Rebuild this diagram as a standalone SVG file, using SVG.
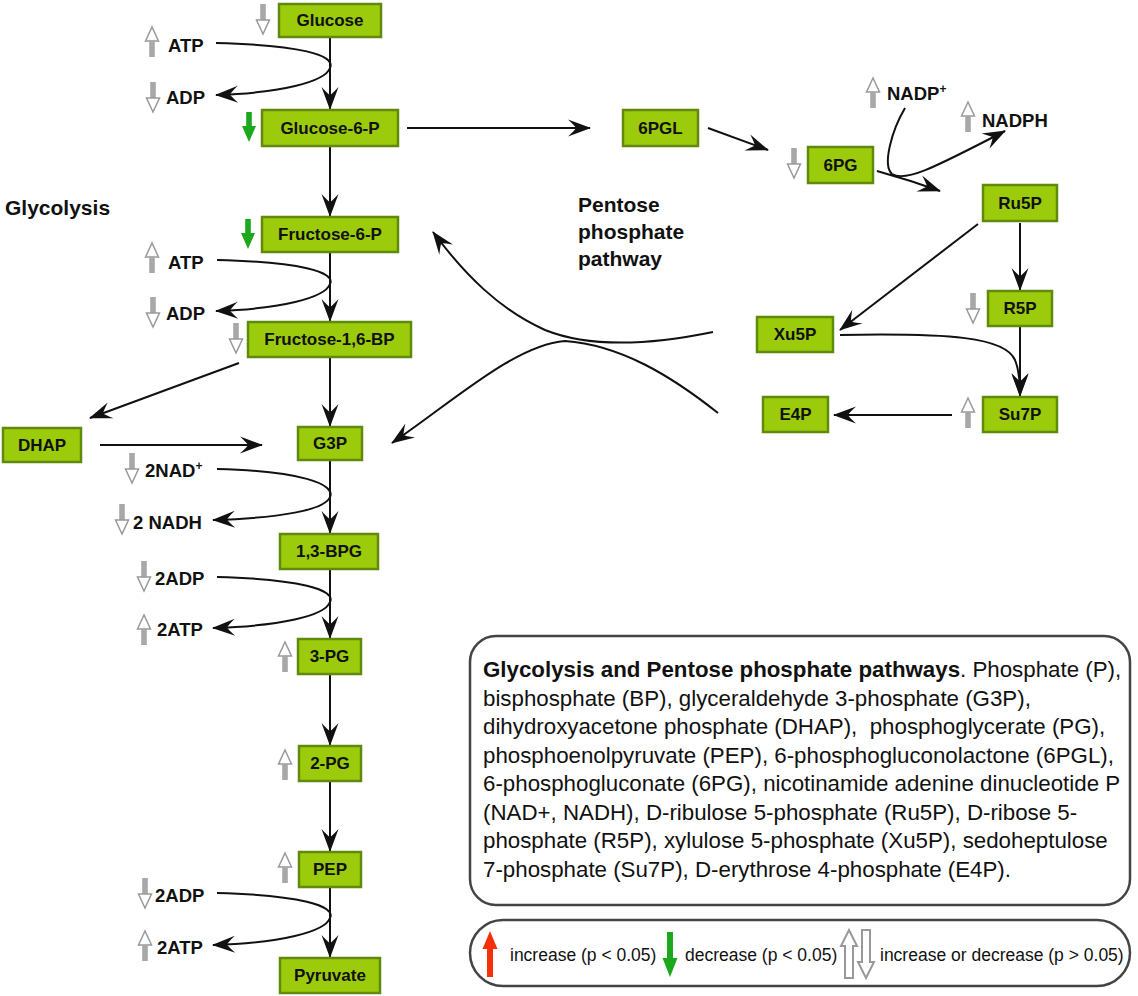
<svg xmlns="http://www.w3.org/2000/svg" width="1138" height="996" viewBox="0 0 1138 996">
<style>
.n rect{fill:#9ccb0c;stroke:#5f8a0e;stroke-width:2.5}
.n text{font-family:"Liberation Sans",Arial,sans-serif;font-weight:bold;font-size:17px;fill:#111;text-anchor:middle}
.lb{font-family:"Liberation Sans",Arial,sans-serif;font-weight:bold;font-size:18.5px;fill:#111}
.ttl{font-family:"Liberation Sans",Arial,sans-serif;font-weight:bold;font-size:21px;fill:#111}
.c path,.c line{fill:none;stroke:#111;stroke-width:2;marker-end:url(#ah)}
.cap{font-family:"Liberation Sans",Arial,sans-serif;font-size:22.3px;fill:#111}
.leg{font-family:"Liberation Sans",Arial,sans-serif;font-size:17.5px;fill:#111}
.box{fill:#fff;stroke:#444;stroke-width:2.5}
</style>
<defs>
<marker id="ah" markerUnits="userSpaceOnUse" markerWidth="26" markerHeight="22" viewBox="-24 -11 26 22" refX="0" refY="0" orient="auto">
<path d="M1,0 L-22,-8.5 Q-15,-2 -14,0 Q-15,2 -22,8.5 Z" fill="#111"/>
</marker>
<g id="gdn"><rect x="-2.8" y="0" width="5.6" height="16" fill="#a8a8a8"/><polygon points="-6.5,16 6.5,16 0,30" fill="#fff" stroke="#999" stroke-width="1.5"/></g>
<g id="gup"><polygon points="0,0 -6.5,14 6.5,14" fill="#fff" stroke="#999" stroke-width="1.5"/><rect x="-2.8" y="14" width="5.6" height="16" fill="#a8a8a8"/></g>
<g id="grn"><rect x="-2.8" y="0" width="5.6" height="16" fill="#1ca81c"/><polygon points="-7,14 7,14 0,30" fill="#1ca81c"/></g>
</defs>
<rect width="1138" height="996" fill="#fff"/>

<g id="connectors" class="c">
<line x1="330" y1="37" x2="330" y2="109"/>
<path d="M216,43 C300,45 336,55 330,68 C325,82 280,93 216,95"/>
<line x1="407" y1="128" x2="590" y2="128"/>
<line x1="330" y1="146" x2="330" y2="216"/>
<line x1="330" y1="252" x2="330" y2="321"/>
<path d="M217,260 C300,262 336,272 330,284 C325,298 280,309 216,311"/>
<line x1="330" y1="357" x2="330" y2="426"/>
<line x1="239" y1="363" x2="90" y2="418"/>
<line x1="100" y1="445" x2="262" y2="445"/>
<line x1="330" y1="460" x2="330" y2="533"/>
<path d="M217,469 C300,471 336,484 330,497 C325,510 280,518 213,520"/>
<line x1="330" y1="569" x2="330" y2="638"/>
<path d="M217,577 C300,579 336,590 330,602 C325,616 280,626 213,628"/>
<line x1="330" y1="674" x2="330" y2="745"/>
<line x1="330" y1="781" x2="330" y2="851"/>
<line x1="330" y1="887" x2="330" y2="957"/>
<path d="M217,893 C300,895 336,906 330,918 C325,932 280,943 213,945"/>
<line x1="708" y1="128" x2="768" y2="150"/>
<path d="M877,171 C895,176 915,182 940,191"/>
<path d="M905,108 C892,130 882,165 892,174 C905,182 930,170 1005,131"/>
<line x1="1020" y1="223" x2="1020" y2="290"/>
<line x1="978" y1="224" x2="840" y2="330"/>
<line x1="1020" y1="327" x2="1020" y2="396"/>
<path d="M840,335 C950,333 1005,337 1015,360 C1019,370 1020,380 1020,395"/>
<line x1="952" y1="415" x2="834" y2="415"/>
<path d="M713,332 C650,345 590,348 545,330 C500,310 465,275 433,232"/>
<path d="M718,413 C670,375 620,345 565,341 C515,345 455,400 392,443"/>
</g>

<g id="nodes">
<g id="glucose" class="n"><rect x="279" y="4" width="102" height="33"/><text x="330" y="26">Glucose</text></g>
<g id="glucose6p" class="n"><rect x="262" y="110" width="136" height="36"/><text x="330" y="134">Glucose-6-P</text></g>
<g id="fructose6p" class="n"><rect x="262" y="217" width="136" height="35"/><text x="330" y="240">Fructose-6-P</text></g>
<g id="fructose16bp" class="n"><rect x="248" y="322" width="163" height="35"/><text x="329.5" y="345">Fructose-1,6-BP</text></g>
<g id="dhap" class="n"><rect x="3" y="428" width="78" height="34"/><text x="42" y="451">DHAP</text></g>
<g id="g3p" class="n"><rect x="298" y="427" width="64" height="33"/><text x="330" y="449">G3P</text></g>
<g id="bpg13" class="n"><rect x="280" y="534" width="98" height="35"/><text x="329" y="557">1,3-BPG</text></g>
<g id="pg3" class="n"><rect x="298" y="639" width="63" height="35"/><text x="329.5" y="662">3-PG</text></g>
<g id="pg2" class="n"><rect x="299" y="746" width="62" height="35"/><text x="330" y="769">2-PG</text></g>
<g id="pep" class="n"><rect x="299" y="852" width="62" height="35"/><text x="330" y="875">PEP</text></g>
<g id="pyruvate" class="n"><rect x="280" y="958" width="100" height="35"/><text x="330" y="981">Pyruvate</text></g>
<g id="pgl6" class="n"><rect x="623" y="110" width="75" height="36"/><text x="660.5" y="134">6PGL</text></g>
<g id="pg6" class="n"><rect x="808" y="147" width="65" height="36"/><text x="840.5" y="171">6PG</text></g>
<g id="ru5p" class="n"><rect x="983" y="185" width="74" height="36"/><text x="1020" y="209">Ru5P</text></g>
<g id="r5p" class="n"><rect x="988" y="291" width="64" height="35"/><text x="1020" y="314">R5P</text></g>
<g id="xu5p" class="n"><rect x="757" y="317" width="76" height="35"/><text x="795" y="340">Xu5P</text></g>
<g id="su7p" class="n"><rect x="983" y="397" width="74" height="35"/><text x="1020" y="420">Su7P</text></g>
<g id="e4p" class="n"><rect x="763" y="397" width="65" height="35"/><text x="795.5" y="420">E4P</text></g>
</g>

<g id="indicators">
<use href="#gdn" x="263" y="4"/>
<use href="#gup" x="152" y="27"/>
<use href="#gdn" x="153" y="82"/>
<use href="#grn" x="249" y="112"/>
<use href="#grn" x="248" y="219"/>
<use href="#gup" x="152" y="243"/>
<use href="#gdn" x="153" y="297"/>
<use href="#gdn" x="236" y="323"/>
<use href="#gdn" x="132" y="453"/>
<use href="#gdn" x="122" y="504"/>
<use href="#gdn" x="144" y="561"/>
<use href="#gup" x="144" y="615"/>
<use href="#gup" x="285" y="642"/>
<use href="#gup" x="285" y="750"/>
<use href="#gup" x="285" y="853"/>
<use href="#gdn" x="145" y="878"/>
<use href="#gup" x="145" y="931"/>
<use href="#gdn" x="794" y="148"/>
<use href="#gup" x="873" y="78"/>
<use href="#gup" x="968" y="102"/>
<use href="#gdn" x="973" y="293"/>
<use href="#gup" x="968" y="398"/>
</g>

<g id="labels">
<text class="lb" x="168" y="52">ATP</text>
<text class="lb" x="166" y="104">ADP</text>
<text class="lb" x="168" y="269">ATP</text>
<text class="lb" x="166" y="320">ADP</text>
<text class="lb" x="145" y="477">2NAD<tspan dy="-7" font-size="12">+</tspan></text>
<text class="lb" x="133" y="529">2 NADH</text>
<text class="lb" x="155" y="585">2ADP</text>
<text class="lb" x="157" y="636">2ATP</text>
<text class="lb" x="155" y="902">2ADP</text>
<text class="lb" x="157" y="954">2ATP</text>
<text class="lb" x="887" y="100">NADP<tspan dy="-7" font-size="12">+</tspan></text>
<text class="lb" x="982" y="127">NADPH</text>
<text class="ttl" x="5" y="215">Glycolysis</text>
<text class="ttl" x="578" y="212">Pentose</text>
<text class="ttl" x="578" y="239">phosphate</text>
<text class="ttl" x="578" y="266">pathway</text>
</g>

<g id="caption">
<rect class="box" x="470" y="636" width="660" height="269" rx="26"/>
<text class="cap" x="483" y="677"><tspan font-weight="bold">Glycolysis and Pentose phosphate pathways</tspan>. Phosphate (P),</text>
<text class="cap" x="483" y="705.5">bisphosphate (BP), glyceraldehyde 3-phosphate (G3P),</text>
<text class="cap" x="483" y="734" xml:space="preserve">dihydroxyacetone phosphate (DHAP),  phosphoglycerate (PG),</text>
<text class="cap" x="483" y="762.5">phosphoenolpyruvate (PEP), 6-phosphogluconolactone (6PGL),</text>
<text class="cap" x="483" y="791">6-phosphogluconate (6PG), nicotinamide adenine dinucleotide P</text>
<text class="cap" x="483" y="819.5">(NAD+, NADH), D-ribulose 5-phosphate (Ru5P), D-ribose 5-</text>
<text class="cap" x="483" y="848">phosphate (R5P), xylulose 5-phosphate (Xu5P), sedoheptulose</text>
<text class="cap" x="483" y="876.5">7-phosphate (Su7P), D-erythrose 4-phosphate (E4P).</text>
</g>

<g id="legend">
<rect class="box" x="470" y="920" width="660" height="66" rx="33"/>
<polygon points="490,931 497.5,949 493,949 493,977 487,977 487,949 482.5,949" fill="#f5300a"/>
<text class="leg" x="510" y="961">increase (p &lt; 0.05)</text>
<polygon points="667,932 673,932 673,958 677.5,958 670,977 662.5,958 667,958" fill="#1ca81c"/>
<text class="leg" x="685" y="961">decrease (p &lt; 0.05)</text>
<polygon points="849,930 857,946 853,946 853,978 845,978 845,946 841,946" fill="#fff" stroke="#999" stroke-width="2"/>
<polygon points="862,930 870,930 870,962 874,962 866,978 858,962 862,962" fill="#fff" stroke="#999" stroke-width="2"/>
<text class="leg" x="880" y="961">increase or decrease (p &gt; 0.05)</text>
</g>
</svg>
